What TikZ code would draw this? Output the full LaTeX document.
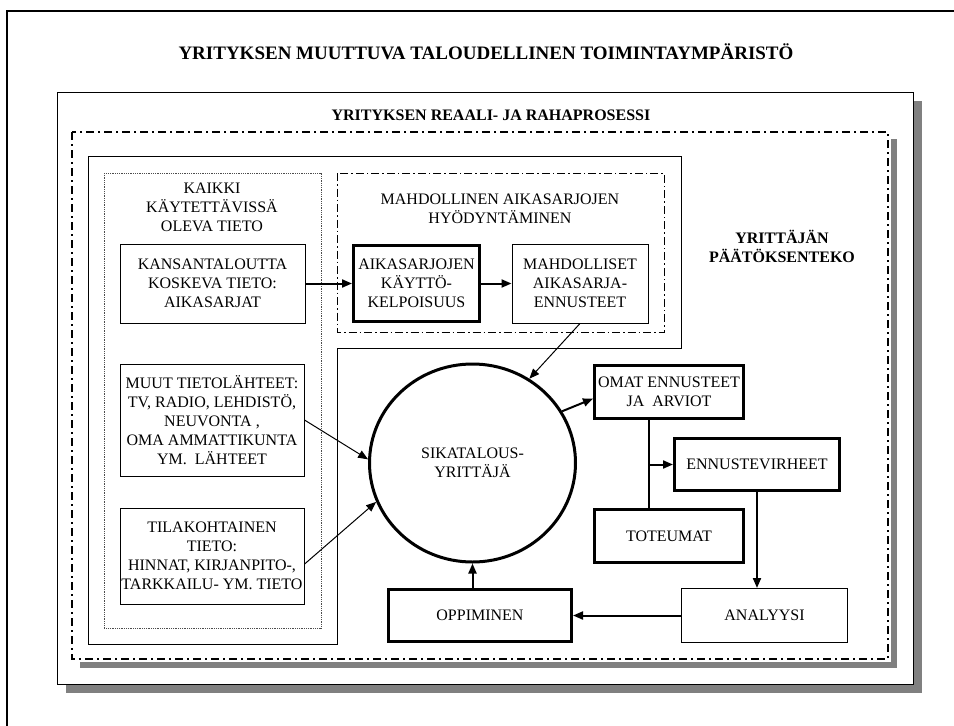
\documentclass[tikz,border=0pt]{standalone}
\usepackage{fontspec}
\setmainfont{Liberation Serif}
\usetikzlibrary{arrows.meta,positioning,shapes.geometric}
\tikzset{
  box/.style={draw, line width=1pt, fill=white, align=center, inner sep=0pt, text centered, font=\fontsize{16}{19}\selectfont},
  thickbox/.style={box, line width=3pt},
  lbl/.style={align=center, inner sep=0pt, font=\fontsize{16}{19}\selectfont},
  headlbl/.style={lbl, font=\fontsize{16}{19}\selectfont\bfseries},
  arr/.style={-{Triangle[length=10pt,width=8pt]}, line width=1pt},
  thickarr/.style={arr, line width=2pt},
  dashdot/.style={dash pattern=on 8pt off 4pt on 2pt off 4pt}
}
\begin{document}
\begin{tikzpicture}[x=1pt, y=-1pt]
  \useasboundingbox (0,0) rectangle (954,726);
  \draw[line width=2pt] (7,740) -- (7,11) -- (965,11);
  \fill[black!50] (66,101) rectangle (922,693);
  \draw[fill=white, line width=0.8pt] (57,92) rectangle (913,684);
  \draw[black!50, line width=6pt] (894,139) -- (894,665) -- (80,665);
  \draw[dashdot, line width=2pt, fill=white] (72,132) rectangle (888,659);
  \draw[line width=0.8pt] (88,156) -- (681,156) -- (681,348) -- (337,348) -- (337,644) -- (88,644) -- cycle;
  \draw[densely dotted, black!70, line width=0.8pt] (104,173) rectangle (321,628);
  \draw[dash pattern=on 8pt off 3pt on 1.5pt off 3pt, line width=0.8pt] (337,173) rectangle (664,332);

  \node[headlbl, font=\fontsize{19}{22}\selectfont\bfseries] (otsikko) at (486,52) {YRITYKSEN MUUTTUVA TALOUDELLINEN TOIMINTAYMPÄRISTÖ};
  \node[headlbl] (prosessi) at (491,115) {YRITYKSEN REAALI- JA RAHAPROSESSI};
  \node[headlbl] (paatos) at (782,246) {YRITTÄJÄN\\PÄÄTÖKSENTEKO};
  \node[lbl] (kaikki) at (212,207) {KAIKKI\\KÄYTETTÄVISSÄ\\OLEVA TIETO};
  \node[lbl] (hyod) at (500,209) {MAHDOLLINEN AIKASARJOJEN\\HYÖDYNTÄMINEN};

  \node[box, minimum width=185, minimum height=79] (kansa) at (212.5,283.5) {KANSANTALOUTTA\\KOSKEVA TIETO:\\AIKASARJAT};
  \node[thickbox, minimum width=126, minimum height=76] (kaytto) at (416.5,283.5) {AIKASARJOJEN\\KÄYTTÖ-\\KELPOISUUS};
  \node[box, minimum width=136, minimum height=79] (ennu) at (580,283.5) {MAHDOLLISET\\AIKASARJA-\\ENNUSTEET};
  \node[box, minimum width=184, minimum height=112] (muut) at (212,420) {MUUT TIETOLÄHTEET:\\TV, RADIO, LEHDISTÖ,\\NEUVONTA ,\\OMA AMMATTIKUNTA\\YM.\ \ LÄHTEET};
  \node[box, minimum width=184, minimum height=96] (tila) at (212,556) {TILAKOHTAINEN\\TIETO:\\HINNAT, KIRJANPITO-,\\TARKKAILU- YM. TIETO};
  \node[ellipse, draw, fill=white, line width=3pt, minimum width=206, minimum height=198, lbl] (yrit) at (472.5,463) {SIKATALOUS-\\YRITTÄJÄ};
  \node[thickbox, minimum width=149, minimum height=53] (omat) at (669,392) {OMAT ENNUSTEET\\JA\ \ ARVIOT};
  \node[thickbox, minimum width=165, minimum height=52] (virhe) at (757,464.5) {ENNUSTEVIRHEET};
  \node[thickbox, minimum width=149, minimum height=53] (tot) at (669,536) {TOTEUMAT};
  \node[box, minimum width=166, minimum height=54] (anal) at (764.5,615.5) {ANALYYSI};
  \node[thickbox, minimum width=183, minimum height=52] (opp) at (480,615.5) {OPPIMINEN};

  \draw[thickarr] (kansa) -- (kaytto);
  \draw[thickarr] (kaytto) -- (ennu);
  \draw[arr] (muut.east) -- (yrit.178);
  \draw[arr] (tila.-5) -- (yrit.202);
  \draw[arr] (ennu.south) -- (yrit.56);
  \draw[thickarr] (yrit.30) -- (omat.185);
  \coordinate (haara) at (649,464.5);
  \draw[line width=2pt] (omat.south -| haara) -- (tot.north -| haara);
  \draw[thickarr] (haara) -- (virhe.west);
  \draw[thickarr] (virhe.south) -- (virhe.south |- anal.north);
  \draw[thickarr] (anal) -- (opp);
  \draw[thickarr] (opp.north -| yrit.south) -- (yrit.south);
\end{tikzpicture}
\end{document}
